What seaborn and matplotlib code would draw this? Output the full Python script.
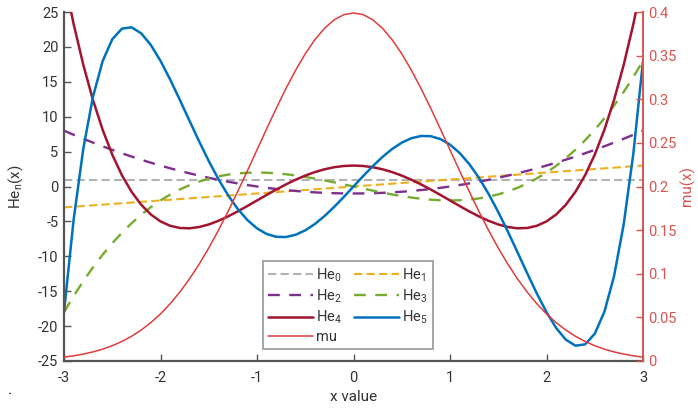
import numpy as np
import pandas as pd
import matplotlib
matplotlib.use("Agg")
import matplotlib.pyplot as plt
import seaborn as sns

# ---- data (sampled values at x = -3.0, -2.9, ..., 3.0) ----
x_vals = np.round(np.linspace(-3, 3, 61), 1)

x_line = [-3, 3]
he0 = [1, 1]
he1 = [-3, 3]

he2 = [8, 7.41, 6.84, 6.29, 5.76, 5.25, 4.76, 4.29, 3.84, 3.41, 3, 2.61, 2.24, 1.89, 1.56, 1.25,
       0.96, 0.69, 0.44, 0.21, 0, -0.19, -0.36, -0.51, -0.64, -0.75, -0.84, -0.91, -0.96, -0.99,
       -1,
       -0.99, -0.96, -0.91, -0.84, -0.75, -0.64, -0.51, -0.36, -0.19, 0, 0.21, 0.44, 0.69, 0.96,
       1.25, 1.56, 1.89, 2.24, 2.61, 3, 3.41, 3.84, 4.29, 4.76, 5.25, 5.76, 6.29, 6.84, 7.41, 8]

he3 = [-18, -15.689, -13.552, -11.583, -9.776, -8.125, -6.624, -5.267, -4.048, -2.961, -2,
       -1.159, -0.432, 0.187, 0.704, 1.125, 1.456, 1.703, 1.872, 1.969, 2, 1.971, 1.888, 1.757,
       1.584, 1.375, 1.136, 0.873, 0.592, 0.299,
       0,
       -0.299, -0.592, -0.873, -1.136, -1.375, -1.584, -1.757, -1.888, -1.971, -2, -1.969,
       -1.872, -1.703, -1.456, -1.125, -0.704, -0.187, 0.432, 1.159, 2, 2.961, 4.048, 5.267,
       6.624, 8.125, 9.776, 11.583, 13.552, 15.689, 18]

he4 = [30, 23.268, 17.426, 12.404, 8.138, 4.563, 1.618, -0.756, -2.614, -4.012, -5, -5.628,
       -5.942, -5.988, -5.806, -5.438, -4.918, -4.284, -3.566, -2.796, -2, -1.204, -0.430,
       0.300, 0.970, 1.563, 2.066, 2.468, 2.762, 2.940,
       3,
       2.940, 2.762, 2.468, 2.066, 1.563, 0.970, 0.300, -0.430, -1.204, -2, -2.796, -3.566,
       -4.284, -4.918, -5.438, -5.806, -5.988, -5.942, -5.628, -5, -4.012, -2.614, -0.756,
       1.618, 4.563, 8.138, 12.404, 17.426, 23.268, 30]

he5 = [-18, -4.721, 5.416, 12.841, 17.946, 21.094, 22.614, 22.807, 21.944, 20.269, 18, 15.329,
       12.424, 9.431, 6.474, 3.656, 1.062, -1.243, -3.208, -4.801, -6, -6.800, -7.208, -7.238,
       -6.918, -6.281, -5.370, -4.232, -2.920, -1.490,
       0,
       1.490, 2.920, 4.232, 5.370, 6.281, 6.918, 7.238, 7.208, 6.800, 6, 4.801, 3.208, 1.243,
       -1.062, -3.656, -6.474, -9.431, -12.424, -15.329, -18, -20.269, -21.944, -22.807,
       -22.614, -21.094, -17.946, -12.841, -5.416, 4.721, 18]

mu = [0.00443, 0.00595, 0.00792, 0.01042, 0.01358, 0.01753, 0.02239, 0.02833, 0.03547, 0.04398,
      0.05399, 0.06562, 0.07895, 0.09405, 0.11092, 0.12952, 0.14973, 0.17137, 0.19419, 0.21785,
      0.24197, 0.26609, 0.28969, 0.31225, 0.33322, 0.35207, 0.36827, 0.38139, 0.39104, 0.39695,
      0.39894,
      0.39695, 0.39104, 0.38139, 0.36827, 0.35207, 0.33322, 0.31225, 0.28969, 0.26609, 0.24197,
      0.21785, 0.19419, 0.17137, 0.14973, 0.12952, 0.11092, 0.09405, 0.07895, 0.06562, 0.05399,
      0.04398, 0.03547, 0.02833, 0.02239, 0.01753, 0.01358, 0.01042, 0.00792, 0.00595, 0.00443]

x_ticks = [-3, -2, -1, 0, 1, 2, 3]
y_ticks = [-25, -20, -15, -10, -5, 0, 5, 10, 15, 20, 25]
y2_ticks = [0, 0.05, 0.1, 0.15, 0.2, 0.25, 0.3, 0.35, 0.4]
y2_labels = ["0", "0.05", "0.1", "0.15", "0.2", "0.25", "0.3", "0.35", "0.4"]

# ---- styling ----
sns.set_style("ticks")
plt.rcParams['font.family'] = ['Roboto', 'DejaVu Sans']
plt.rcParams['mathtext.fontset'] = 'custom'
plt.rcParams['mathtext.rm'] = 'Roboto'
plt.rcParams['mathtext.it'] = 'Roboto'

AXC = "#555555"
TXT = "#333333"
RED_AX = "#d9534f"

fig = plt.figure(figsize=(6.98, 4.09), dpi=100)
ax = fig.add_axes([64/698, 1-361/409, (643-64)/698, (361-12)/409])
ax2 = ax.twinx()

def draw(a, xs, ys, color, lw, ls, label):
    df = pd.DataFrame({"x": xs, "y": ys})
    sns.lineplot(data=df, x="x", y="y", ax=a, color=color, lw=lw, linestyle=ls,
                 label=label, estimator=None, sort=False, legend=False)

draw(ax, x_line, he0, "#b3b3b3", 1.5, (0, (4, 2)), "He$_0$")
draw(ax, x_line, he1, "#EDB120", 1.5, (0, (4, 2)), "He$_1$")
draw(ax, x_vals, he2, "#7E2F8E", 1.7, (0, (5, 4)), "He$_2$")
draw(ax, x_vals, he3, "#77AC30", 1.7, (0, (5, 4)), "He$_3$")
draw(ax, x_vals, he4, "#A2142F", 1.8, "-", "He$_4$")
draw(ax, x_vals, he5, "#0072BD", 1.8, "-", "He$_5$")
draw(ax2, x_vals, mu, "#e03c3c", 1.1, "-", "mu")

ax.set_xlim(-3, 3)
ax.set_ylim(-25, 25)
ax2.set_ylim(0, 0.4)
ax.set_xticks(x_ticks)
ax.set_xticklabels([str(t) for t in x_ticks])
ax.set_yticks(y_ticks)
ax.set_yticklabels([str(t) for t in y_ticks])
ax2.set_yticks(y2_ticks)
ax2.set_yticklabels(y2_labels)

for a in (ax, ax2):
    a.spines['top'].set_visible(False)
ax.spines['right'].set_visible(False)
ax.spines['left'].set_color(AXC)
ax.spines['bottom'].set_color(AXC)
ax.spines['left'].set_linewidth(1.6)
ax.spines['bottom'].set_linewidth(1.6)
ax2.spines['left'].set_visible(False)
ax2.spines['bottom'].set_visible(False)
ax2.spines['right'].set_color(RED_AX)
ax2.spines['right'].set_linewidth(1.4)

ax.tick_params(axis='both', direction='in', length=5, width=1, colors=AXC,
               labelcolor=TXT, labelsize=10.5, pad=4)
ax.tick_params(axis='x', pad=7)
ax2.tick_params(axis='y', direction='in', length=5, width=1, colors=RED_AX,
                labelcolor=RED_AX, labelsize=10.5, pad=4)

ax.set_xlabel("x value", fontsize=11, color=TXT, labelpad=4)
ax.set_ylabel("He$_n$(x)", fontsize=11, color=TXT, labelpad=9)
ax2.set_ylabel("mu(x)", fontsize=11, color=RED_AX, labelpad=2)

lines1 = ax.get_lines()
lines2 = ax2.get_lines()
h = {l.get_label(): l for l in list(lines1) + list(lines2)}
order = ["He$_0$", "He$_2$", "He$_4$", "mu", "He$_1$", "He$_3$", "He$_5$"]
leg = ax2.legend([h[k] for k in order], order, ncol=2, loc="lower center",
                 bbox_to_anchor=(0.49, 0.035), fontsize=10.5, frameon=True,
                 fancybox=False, handlelength=3.1, handletextpad=0.2,
                 columnspacing=0.8, labelspacing=0.25, borderpad=0.35,
                 borderaxespad=0)
leg.get_frame().set_edgecolor("#888888")
leg.get_frame().set_linewidth(1.3)
for t in leg.get_texts():
    t.set_color(TXT)

fig.text(10/698, 1-389/409, ".", fontsize=12, color="black", ha="center", va="center")

fig.savefig("out.png", dpi=100)
